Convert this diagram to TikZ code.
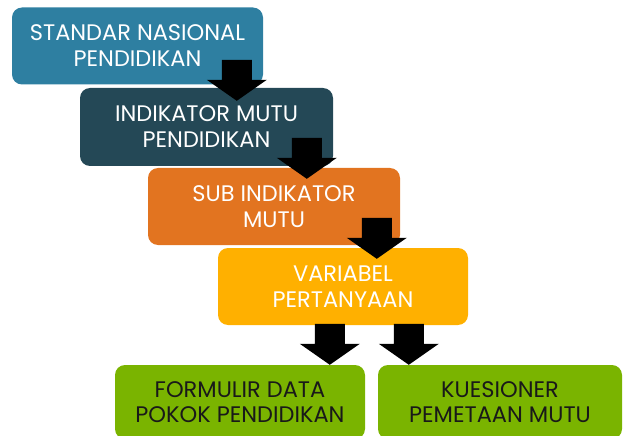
\documentclass[tikz,border=0pt]{standalone}
\usepackage{fontspec}
\setmainfont{Poppins}
\usetikzlibrary{calc}
\definecolor{cA}{RGB}{46,127,161}
\definecolor{cB}{RGB}{36,72,86}
\definecolor{cC}{RGB}{226,116,32}
\definecolor{cD}{RGB}{255,176,0}
\definecolor{cE}{RGB}{122,180,0}
\begin{document}
\begin{tikzpicture}[x=1pt,y=-1pt,
  box/.style={rounded corners=10pt, inner sep=0pt, align=center, text=white,
    font=\fontsize{22.5}{26}\selectfont},
  greenbox/.style={box, fill=cE, text=black!90, font=\fontsize{22.5}{25}\selectfont},
  blockarrow/.style={fill=black, draw=none}]
\clip (0,0) rectangle (625,436);
\node[box, fill=cA, minimum width=251pt, minimum height=77pt] (b1) at (137.5,46) {STANDAR NASIONAL\\PENDIDIKAN};
\node[box, fill=cB, minimum width=253pt, minimum height=78pt] (b2) at (206.5,127) {INDIKATOR MUTU\\PENDIDIKAN};
\node[box, fill=cC, minimum width=252pt, minimum height=77pt] (b3) at (274,206.5) {SUB INDIKATOR\\MUTU};
\node[box, fill=cD, minimum width=250pt, minimum height=77pt] (b4) at (343,286.5) {VARIABEL\\PERTANYAAN};
\node[greenbox, minimum width=250pt, minimum height=74pt] (b5) at (240,402) {FORMULIR DATA\\POKOK PENDIDIKAN};
\node[greenbox, minimum width=244pt, minimum height=74pt] (b6) at (500,402) {KUESIONER\\PEMETAAN MUTU};
% block arrows: tip coordinates just inside the target box
\coordinate (t1) at ($(b2.north west)+(157,13)$);
\coordinate (t2) at ($(b3.north west)+(159,11)$);
\coordinate (t3) at ($(b4.north west)+(159,11)$);
\coordinate (t4) at ($(b5.north west)+(215,0)$);
\coordinate (t5) at ($(b6.north west)+(31,0)$);
\foreach \t in {t1,t2,t3,t4,t5}{
  \fill[blockarrow] (\t) -- ++(-30,-21) -- ++(15,0) -- ++(0,-20) -- ++(30,0) -- ++(0,20) -- ++(15,0) -- cycle;
}
\end{tikzpicture}
\end{document}
